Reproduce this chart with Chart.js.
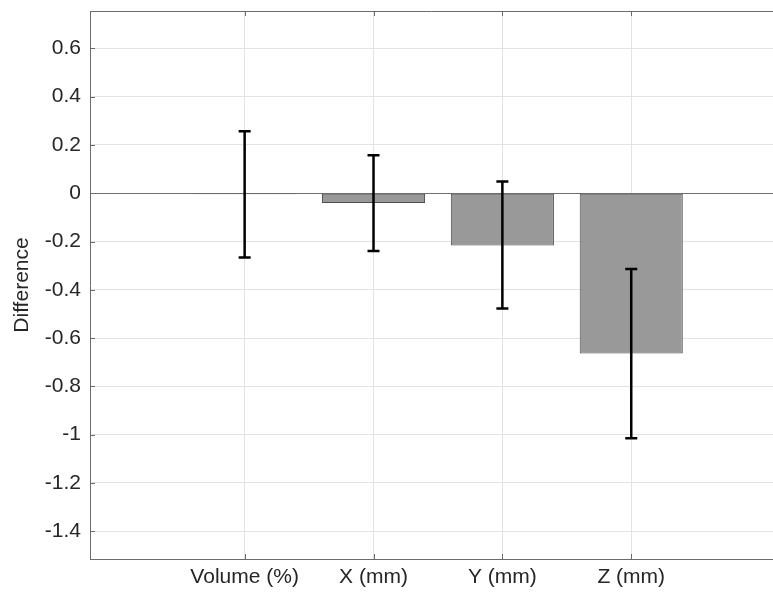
<!DOCTYPE html>
<html>
<head>
<meta charset="utf-8">
<script src="https://cdn.jsdelivr.net/npm/chart.js@4/dist/chart.umd.min.js"></script>
<style>
  html, body { margin: 0; padding: 0; background: #fff; }
  #wrap { width: 773px; height: 594px; }
</style>
</head>
<body>
<div id="wrap"><canvas id="chartOne" width="773" height="594"></canvas></div>
<script>
// datos
const categories = ['Volume (%)', 'X (mm)', 'Y (mm)', 'Z (mm)'];
const meanDiff = [-0.004, -0.04, -0.216, -0.664];
const errLower = [-0.266, -0.239, -0.477, -1.015];
const errUpper = [0.257, 0.157, 0.049, -0.314];
const yTicks = [-1.4, -1.2, -1, -0.8, -0.6, -0.4, -0.2, 0, 0.2, 0.4, 0.6];

const axisColor = '#6b6b6b';
const textColor = '#262626';
const gridColor = '#e3e3e3';

// barras de error y marcas interiores al estilo matlab
const errorBarsPlugin = {
    id: 'errorBars',
    afterDatasetsDraw(chart) {
        const ctx = chart.ctx;
        const x = chart.scales.x;
        const y = chart.scales.y;
        const area = chart.chartArea;

        ctx.save();
        // marco superior
        ctx.strokeStyle = axisColor;
        ctx.lineWidth = 1;
        ctx.beginPath();
        ctx.moveTo(area.left, area.top + 0.5);
        ctx.lineTo(area.right, area.top + 0.5);
        ctx.stroke();

        // ticks hacia dentro
        ctx.beginPath();
        yTicks.forEach(v => {
            const py = Math.round(y.getPixelForValue(v)) + 0.5;
            ctx.moveTo(area.left, py);
            ctx.lineTo(area.left + 5, py);
        });
        categories.forEach((c, i) => {
            const px = Math.round(x.getPixelForValue(i + 1)) + 0.5;
            ctx.moveTo(px, area.bottom);
            ctx.lineTo(px, area.bottom - 5);
            ctx.moveTo(px, area.top);
            ctx.lineTo(px, area.top + 5);
        });
        ctx.stroke();

        // barras de error
        ctx.strokeStyle = '#000';
        ctx.lineWidth = 2.5;
        categories.forEach((c, i) => {
            const px = x.getPixelForValue(i + 1);
            const top = y.getPixelForValue(errUpper[i]);
            const bot = y.getPixelForValue(errLower[i]);
            ctx.beginPath();
            ctx.moveTo(px, top);
            ctx.lineTo(px, bot);
            ctx.moveTo(px - 6, top);
            ctx.lineTo(px + 6, top);
            ctx.moveTo(px - 6, bot);
            ctx.lineTo(px + 6, bot);
            ctx.stroke();
        });
        ctx.restore();
    }
};

function getChartOne() {
    const ctxOne = document.getElementById('chartOne').getContext('2d');
    return new Chart(ctxOne, {
        type: 'bar',
        data: {
            datasets: [{
                label: 'Difference',
                data: categories.map((c, i) => ({ x: i + 1, y: meanDiff[i] })),
                backgroundColor: '#999999',
                borderColor: '#4d4d4d',
                borderWidth: 1,
                borderSkipped: false,
                categoryPercentage: 1,
                barPercentage: 0.8
            }]
        },
        options: {
            responsive: false,
            devicePixelRatio: 1,
            animation: false,
            layout: { padding: { left: 0, right: 0, top: 0, bottom: 0 } },
            plugins: {
                legend: { display: false },
                tooltip: { enabled: false }
            },
            scales: {
                x: {
                    type: 'linear',
                    min: -0.2,
                    max: 5.1,
                    offset: false,
                    afterBuildTicks: scale => {
                        scale.ticks = categories.map((c, i) => ({ value: i + 1 }));
                    },
                    afterFit: scale => { scale.height = 35; },
                    ticks: {
                        autoSkip: false,
                        maxRotation: 0,
                        padding: 6,
                        color: textColor,
                        font: { family: 'Liberation Sans, Arial, Helvetica', size: 21 },
                        callback: v => categories[Math.round(v) - 1]
                    },
                    grid: { color: gridColor, drawTicks: false, offset: false },
                    border: { display: true, color: axisColor }
                },
                y: {
                    min: -1.515,
                    max: 0.755,
                    afterBuildTicks: scale => {
                        scale.ticks = yTicks.map(v => ({ value: v }));
                    },
                    afterFit: scale => {
                        scale.width = 90;
                        scale.paddingTop = 11;
                        scale.paddingBottom = 0;
                    },
                    ticks: {
                        padding: 9,
                        color: textColor,
                        font: { family: 'Liberation Sans, Arial, Helvetica', size: 21 },
                        callback: v => String(Math.round(v * 10) / 10)
                    },
                    grid: {
                        drawTicks: false,
                        color: c => (c.tick && c.tick.value === 0) ? '#6f6f6f' : gridColor
                    },
                    border: { display: true, color: axisColor },
                    title: {
                        display: true,
                        text: 'Difference',
                        color: textColor,
                        font: { family: 'Liberation Sans, Arial, Helvetica', size: 21 },
                        padding: { top: 10, bottom: 0 }
                    }
                }
            }
        },
        plugins: [errorBarsPlugin]
    });
}

getChartOne();
</script>
</body>
</html>
